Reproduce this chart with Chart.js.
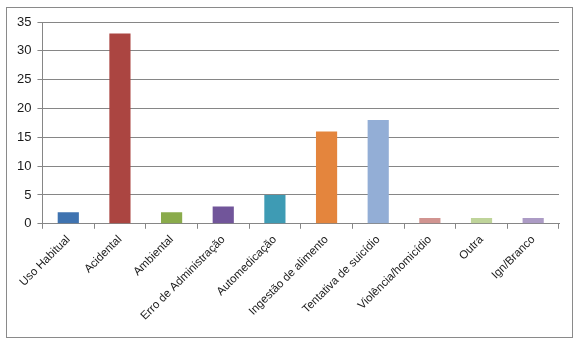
<!DOCTYPE html>
<html>
<head>
<meta charset="utf-8">
<script src="https://cdn.jsdelivr.net/npm/chart.js@4/dist/chart.umd.min.js"></script>
<style>
    body { margin: 0; background: #fff; }
    #frame {
        position: absolute;
        left: 6px;
        top: 7px;
        width: 565px;
        height: 329px;
        border: 1px solid #8a8a8a;
    }
</style>
</head>
<body>
<div id="frame">
    <canvas id="myChart" width="565" height="329"></canvas>
</div>
<script>
// casos por circunstância
const categorias = ['Uso Habitual', 'Acidental', 'Ambiental', 'Erro de Administração', 'Automedicação',
    'Ingestão de alimento', 'Tentativa de suicídio', 'Violência/homicídio', 'Outra', 'Ign/Branco'];
const casos = [2, 33, 2, 3, 5, 16, 18, 1, 1, 1];
const cores = ['#3f73b0', '#ab4541', '#8aab4b', '#71559a', '#3e9bb4',
    '#e4853d', '#93aed6', '#d19490', '#bfd49a', '#ac9bc5'];
const yTicks = [0, 5, 10, 15, 20, 25, 30, 35];

const ctx = document.getElementById('myChart').getContext('2d');
new Chart(ctx, {
    type: 'bar',
    data: {
        labels: categorias,
        datasets: [{
            data: casos,
            backgroundColor: cores,
            borderWidth: 0,
            barPercentage: 0.41,
            categoryPercentage: 1
        }]
    },
    options: {
        responsive: false,
        animation: false,
        layout: {padding: {left: 4, right: 13, top: 14, bottom: 10}},
        plugins: {legend: {display: false}, tooltip: {enabled: false}},
        scales: {
            x: {
                grid: {
                    drawOnChartArea: false,
                    drawTicks: true,
                    tickLength: 5,
                    color: '#868686',
                    offset: true
                },
                border: {color: '#868686'},
                ticks: {
                    minRotation: 45,
                    maxRotation: 45,
                    autoSkip: false,
                    color: '#1a1a1a',
                    padding: 4,
                    font: {family: 'Liberation Sans', size: 11.5}
                }
            },
            y: {
                min: 0,
                max: 35,
                afterBuildTicks: (axis) => { axis.ticks = yTicks.map(v => ({value: v})); },
                grid: {
                    color: '#868686',
                    tickLength: 5
                },
                border: {color: '#868686'},
                ticks: {
                    color: '#1a1a1a',
                    padding: 6,
                    font: {family: 'Liberation Sans', size: 13}
                }
            }
        }
    }
});
</script>
</body>
</html>
